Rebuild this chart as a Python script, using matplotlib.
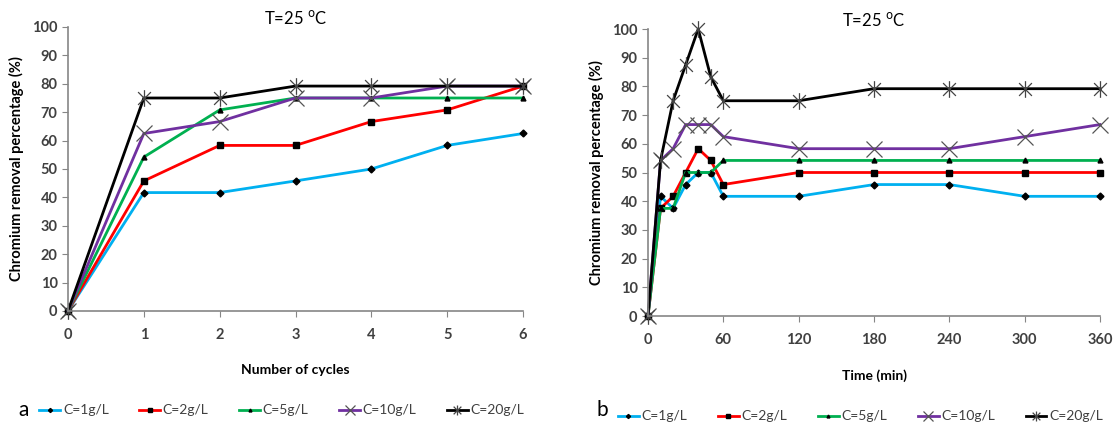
import matplotlib.pyplot as plt
import numpy as np
from matplotlib.path import Path

plt.rcParams['font.family'] = ['Lato', 'DejaVu Sans']

# panel a: removal vs number of cycles
cycles = [0, 1, 2, 3, 4, 5, 6]
a_c1 = [0, 41.7, 41.7, 45.8, 50.0, 58.3, 62.5]
a_c2 = [0, 45.8, 58.3, 58.3, 66.7, 70.8, 79.2]
a_c5 = [0, 54.2, 70.8, 75.0, 75.0, 75.0, 75.0]
a_c10 = [0, 62.5, 66.7, 75.0, 75.0, 79.2, 79.2]
a_c20 = [0, 75.0, 75.0, 79.2, 79.2, 79.2, 79.2]

# panel b: removal vs time (min)
time_min = [0, 10, 20, 30, 40, 50, 60, 120, 180, 240, 300, 360]
b_c1 = [0, 41.7, 37.5, 45.8, 50.0, 50.0, 41.7, 41.7, 45.8, 45.8, 41.7, 41.7]
b_c2 = [0, 37.5, 41.7, 50.0, 58.3, 54.2, 45.8, 50.0, 50.0, 50.0, 50.0, 50.0]
b_c5 = [0, 37.5, 37.5, 50.0, 50.0, 50.0, 54.2, 54.2, 54.2, 54.2, 54.2, 54.2]
b_c10 = [0, 54.2, 58.3, 66.7, 66.7, 66.7, 62.5, 58.3, 58.3, 58.3, 62.5, 66.7]
b_c20 = [0, 54.2, 75.0, 87.5, 100.0, 83.3, 75.0, 75.0, 79.2, 79.2, 79.2, 79.2]

labels = ['C=1g/L', 'C=2g/L', 'C=5g/L', 'C=10g/L', 'C=20g/L']
colors = ['#00b0f0', '#ff0000', '#00b050', '#7030a0', '#000000']

# excel-like star marker: an x with a vertical bar
star = Path([(-1, -1), (1, 1), (-1, 1), (1, -1), (0, -1.3), (0, 1.3)],
            [Path.MOVETO, Path.LINETO, Path.MOVETO, Path.LINETO,
             Path.MOVETO, Path.LINETO])
styles = [dict(marker='D', ms=3.5, mfc='black', mec='black'),
          dict(marker='s', ms=4.5, mfc='black', mec='black'),
          dict(marker='^', ms=3.5, mfc='black', mec='black'),
          dict(marker='x', ms=11, mec='#555555', mew=0.9),
          dict(marker=star, ms=12, mec='#444444', mew=0.9)]

fig = plt.figure(figsize=(11.16, 4.23), dpi=100)
ax_a = fig.add_axes([68 / 1116, 1 - 311 / 423, 455 / 1116, 284 / 423])
ax_b = fig.add_axes([648 / 1116, 1 - 316 / 423, 452 / 1116, 287 / 423])

grey = '#868686'
tick_col = '#404040'


def draw(ax, x, series, xticks, xlabel, letter, letter_x):
    handles = []
    for y, c, lab, st in zip(series, colors, labels, styles):
        h, = ax.plot(x, y, color=c, lw=2, label=lab, **st)
        handles.append(h)
    ax.set_ylim(0, 100)
    ax.set_xlim(xticks[0], xticks[-1])
    ax.set_yticks(np.arange(0, 101, 10))
    ax.set_xticks(xticks)
    for s in ['top', 'right']:
        ax.spines[s].set_visible(False)
    for s in ['left', 'bottom']:
        ax.spines[s].set_color(grey)
        ax.spines[s].set_linewidth(1.2)
    ax.tick_params(colors=grey, labelcolor=tick_col, labelsize=10.5, length=4)
    ax.tick_params(axis='x', pad=8)
    for t in ax.get_xticklabels() + ax.get_yticklabels():
        t.set_fontweight('bold')
    for ln in ax.lines:
        ln.set_clip_on(False)
    ax.set_ylabel('Chromium removal percentage (%)', fontsize=10.5,
                  fontweight='bold', labelpad=6)
    ax.set_xlabel(xlabel, fontsize=10, fontweight='bold', labelpad=16)
    ax.text(0.5, 1.0, 'T=25 $^{\\rm o}$C', transform=ax.transAxes,
            fontsize=12, ha='center', va='bottom')
    fig.text(letter_x, 1 - 410 / 423, letter, fontsize=15, va='center')
    leg = ax.legend(handles=handles, loc='center', ncol=5, frameon=False,
                    bbox_to_anchor=(0.47, -0.35), fontsize=10, markerscale=0.6,
                    handlelength=1.5, handletextpad=0.2, columnspacing=2.2)
    for t in leg.get_texts():
        t.set_color(tick_col)


draw(ax_a, cycles, [a_c1, a_c2, a_c5, a_c10, a_c20], [0, 1, 2, 3, 4, 5, 6],
     'Number of cycles', 'a', 18 / 1116)
draw(ax_b, time_min, [b_c1, b_c2, b_c5, b_c10, b_c20],
     [0, 60, 120, 180, 240, 300, 360], 'Time (min)', 'b', 596 / 1116)

fig.savefig('out.png', dpi=100)
